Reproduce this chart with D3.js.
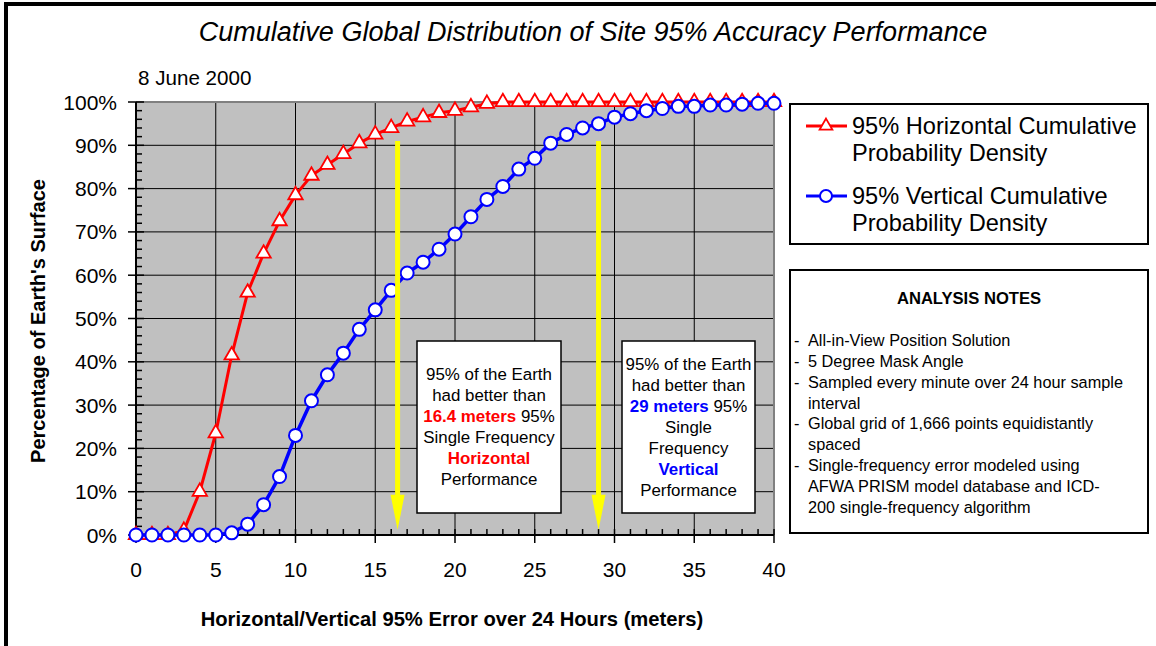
<!DOCTYPE html>
<html>
<head>
<meta charset="utf-8">
<script src="https://cdn.jsdelivr.net/npm/d3@7"></script>
<style>
  html, body { margin: 0; padding: 0; background: #fff; }
  svg { display: block; }
  text { font-family: "Liberation Sans", Arial, sans-serif; fill: #000; }
</style>
</head>
<body>
<svg id="chart" width="1156" height="646"></svg>
<script>
// Error thresholds (meters) on the x axis
const errorMeters = [0,1,2,3,4,5,6,7,8,9,10,11,12,13,14,15,16,17,18,19,20,
                     21,22,23,24,25,26,27,28,29,30,31,32,33,34,35,36,37,38,39,40];

// Percentage of sites at or below each error threshold
const horizontalPct = [0,0,0,1,10,23.5,41.5,56,65,72.5,78.5,83,85.5,88,90.5,92.5,94,95.5,96.5,97.5,98,
                       98.8,99.6,100,100,100,100,100,100,100,100,100,100,100,100,100,100,100,100,100,100];
const verticalPct   = [0,0,0,0,0,0,0.5,2.5,7,13.5,23,31,37,42,47.5,52,56.5,60.5,63,66,69.5,
                       73.5,77.5,80.5,84.5,87,90.5,92.5,94,95,96.5,97.3,98,98.5,99,99,99.3,99.3,99.5,99.7,99.7];

// 95th-percentile marks called out by the arrows
const horizontal95 = 16.4;
const vertical95 = 29;

const xTickValues = [0,5,10,15,20,25,30,35,40];
const yTickValues = [0,10,20,30,40,50,60,70,80,90,100];

const legendLabels = [
  ["95% Horizontal Cumulative", "Probability Density"],
  ["95% Vertical Cumulative", "Probability Density"]
];
const notesItems = [
  ["All-in-View Position Solution"],
  ["5 Degree Mask Angle"],
  ["Sampled every minute over 24 hour sample", "interval"],
  ["Global grid of 1,666 points equidistantly", "spaced"],
  ["Single-frequency error modeled using", "AFWA PRISM model database and ICD-", "200 single-frequency algorithm"]
];

const RED = "#FF0000", BLUE = "#0000FF", YELLOW = "#FFFF00";

const svg = d3.select("#chart");
const x = d3.scaleLinear().domain([0, 40]).range([136, 774]);
const y = d3.scaleLinear().domain([0, 100]).range([535, 102]);

// page frame
svg.append("rect").attr("width", 1156).attr("height", 646).attr("fill", "#fff");
svg.append("line").attr("x1", 4).attr("x2", 1156).attr("y1", 4).attr("y2", 4)
  .attr("stroke", "#000").attr("stroke-width", 4);
svg.append("line").attr("x1", 6).attr("x2", 6).attr("y1", 2).attr("y2", 646)
  .attr("stroke", "#000").attr("stroke-width", 4);

// title and date
svg.append("text").attr("x", 593).attr("y", 41).attr("text-anchor", "middle")
  .style("font-size", "27px").style("font-style", "italic")
  .text("Cumulative Global Distribution of Site 95% Accuracy Performance");
svg.append("text").attr("x", 138).attr("y", 85)
  .style("font-size", "20.6px").text("8 June 2000");

// plot area
const plot = svg.append("g");
plot.append("rect")
  .attr("x", x(0)).attr("y", y(100))
  .attr("width", x(40) - x(0)).attr("height", y(0) - y(100))
  .attr("fill", "#C0C0C0");

// grid
plot.selectAll(".vgrid").data(xTickValues.filter(d => d > 0 && d < 40)).join("line")
  .attr("x1", d => x(d)).attr("x2", d => x(d))
  .attr("y1", y(0)).attr("y2", y(100))
  .attr("stroke", "#000").attr("stroke-width", 1);
plot.selectAll(".hgrid").data(yTickValues.filter(d => d > 0 && d < 100)).join("line")
  .attr("x1", x(0)).attr("x2", x(40))
  .attr("y1", d => y(d)).attr("y2", d => y(d))
  .attr("stroke", "#000").attr("stroke-width", 1);

// top / right frame of plot
plot.append("path")
  .attr("d", `M${x(0)},${y(100)}H${x(40)}V${y(0)}`)
  .attr("fill", "none").attr("stroke", "#808080").attr("stroke-width", 2);

// axes lines
plot.append("line").attr("x1", x(0)).attr("x2", x(0)).attr("y1", y(100)).attr("y2", y(0))
  .attr("stroke", "#000").attr("stroke-width", 2);
plot.append("line").attr("x1", x(0)).attr("x2", x(40)).attr("y1", y(0)).attr("y2", y(0))
  .attr("stroke", "#000").attr("stroke-width", 2);

// y ticks: major crossing, minor inside every 2%
plot.selectAll(".ymaj").data(yTickValues).join("line")
  .attr("x1", x(0) - 8).attr("x2", x(0) + 8)
  .attr("y1", d => y(d)).attr("y2", d => y(d))
  .attr("stroke", "#000").attr("stroke-width", 1.5);
plot.selectAll(".ymin").data(d3.range(2, 100, 2).filter(d => d % 10 !== 0)).join("line")
  .attr("x1", x(0)).attr("x2", x(0) + 6)
  .attr("y1", d => y(d)).attr("y2", d => y(d))
  .attr("stroke", "#000").attr("stroke-width", 1.5);

// x ticks: major crossing, minor inside every meter
plot.selectAll(".xmaj").data(xTickValues).join("line")
  .attr("x1", d => x(d)).attr("x2", d => x(d))
  .attr("y1", y(0) - 6).attr("y2", y(0) + 8)
  .attr("stroke", "#000").attr("stroke-width", 1.5);
plot.selectAll(".xmin").data(errorMeters.filter(d => d % 5 !== 0)).join("line")
  .attr("x1", d => x(d)).attr("x2", d => x(d))
  .attr("y1", y(0) - 6).attr("y2", y(0))
  .attr("stroke", "#000").attr("stroke-width", 1.5);

// tick labels
svg.selectAll(".ylab").data(yTickValues).join("text")
  .attr("x", 117).attr("y", d => y(d)).attr("dy", "0.36em")
  .attr("text-anchor", "end").style("font-size", "21px")
  .text(d => d + "%");
svg.selectAll(".xlab").data(xTickValues).join("text")
  .attr("x", d => x(d)).attr("y", 577)
  .attr("text-anchor", "middle").style("font-size", "21px")
  .text(d => d);

// axis titles
svg.append("text").attr("x", 452).attr("y", 626).attr("text-anchor", "middle")
  .style("font-size", "20.2px").style("font-weight", "bold")
  .text("Horizontal/Vertical 95% Error over 24 Hours (meters)");
svg.append("text").attr("transform", "translate(45,321) rotate(-90)")
  .attr("text-anchor", "middle")
  .style("font-size", "20px").style("font-weight", "bold")
  .text("Percentage of Earth's Surface");

// series
const line = d3.line();
const hPts = errorMeters.map((m, i) => [x(m), y(horizontalPct[i])]);
const vPts = errorMeters.map((m, i) => [x(m), y(verticalPct[i])]);
const tri = d3.symbol(d3.symbolTriangle, 90);

plot.append("path").attr("d", line(hPts)).attr("fill", "none")
  .attr("stroke", RED).attr("stroke-width", 3).attr("stroke-linejoin", "round");
plot.selectAll(".hmark").data(hPts).join("path")
  .attr("d", tri).attr("transform", d => `translate(${d[0]},${d[1]})`)
  .attr("fill", "#fff").attr("stroke", RED).attr("stroke-width", 1.8);

plot.append("path").attr("d", line(vPts)).attr("fill", "none")
  .attr("stroke", BLUE).attr("stroke-width", 3.5).attr("stroke-linejoin", "round");
plot.selectAll(".vmark").data(vPts).join("circle")
  .attr("cx", d => d[0]).attr("cy", d => d[1]).attr("r", 6.5)
  .attr("fill", "#fff").attr("stroke", BLUE).attr("stroke-width", 2);

// yellow arrows at the 95% values
[horizontal95, vertical95].forEach(v => {
  const ax = x(v), top = y(91), tip = y(1.2), headLen = 35, headHalf = 7;
  plot.append("line").attr("x1", ax).attr("x2", ax).attr("y1", top).attr("y2", tip - headLen + 2)
    .attr("stroke", YELLOW).attr("stroke-width", 5);
  plot.append("path")
    .attr("d", `M${ax - headHalf},${tip - headLen}L${ax + headHalf},${tip - headLen}L${ax},${tip}Z`)
    .attr("fill", YELLOW);
});

// annotation boxes
function noteBox(x0, y0, w, h, lines, cy0, step) {
  const g = svg.append("g");
  g.append("rect").attr("x", x0).attr("y", y0).attr("width", w).attr("height", h)
    .attr("fill", "#fff").attr("stroke", "#000").attr("stroke-width", 1.5);
  lines.forEach((parts, i) => {
    const t = g.append("text").attr("x", x0 + w / 2).attr("y", cy0 + i * step)
      .attr("dy", "0.36em").attr("text-anchor", "middle").style("font-size", "16.9px");
    parts.forEach(p => {
      t.append("tspan").text(p.t)
        .style("fill", p.c || "#000").style("font-weight", p.b ? "bold" : "normal");
    });
  });
}
noteBox(417, 341, 144, 172, [
  [{t: "95% of the Earth"}],
  [{t: "had better than"}],
  [{t: horizontal95 + " meters", c: RED, b: true}, {t: " 95%"}],
  [{t: "Single Frequency"}],
  [{t: "Horizontal", c: RED, b: true}],
  [{t: "Performance"}]
], 373.5, 21);
noteBox(622, 341, 133, 172, [
  [{t: "95% of the Earth"}],
  [{t: "had better than"}],
  [{t: vertical95 + " meters", c: BLUE, b: true}, {t: " 95%"}],
  [{t: "Single"}],
  [{t: "Frequency"}],
  [{t: "Vertical", c: BLUE, b: true}],
  [{t: "Performance"}]
], 363.5, 21.1);

// legend
const leg = svg.append("g");
leg.append("rect").attr("x", 790).attr("y", 104).attr("width", 358).attr("height", 140)
  .attr("fill", "#fff").attr("stroke", "#000").attr("stroke-width", 2);
const legY = [126, 196];
[[RED, "tri"], [BLUE, "circ"]].forEach(([col, kind], i) => {
  const ly = legY[i];
  leg.append("line").attr("x1", 806).attr("x2", 847).attr("y1", ly).attr("y2", ly)
    .attr("stroke", col).attr("stroke-width", 3);
  if (kind === "tri") {
    leg.append("path").attr("d", d3.symbol(d3.symbolTriangle, 70))
      .attr("transform", `translate(826,${ly})`)
      .attr("fill", "#fff").attr("stroke", col).attr("stroke-width", 1.8);
  } else {
    leg.append("circle").attr("cx", 826).attr("cy", ly).attr("r", 6)
      .attr("fill", "#fff").attr("stroke", col).attr("stroke-width", 2);
  }
  legendLabels[i].forEach((s, j) => {
    leg.append("text").attr("x", 852).attr("y", ly + j * 27).attr("dy", "0.36em")
      .style("font-size", "23.6px").text(s);
  });
});

// analysis notes
const notes = svg.append("g");
notes.append("rect").attr("x", 790).attr("y", 270).attr("width", 358).attr("height", 263)
  .attr("fill", "#fff").attr("stroke", "#000").attr("stroke-width", 2);
notes.append("text").attr("x", 969).attr("y", 298).attr("dy", "0.36em")
  .attr("text-anchor", "middle").style("font-size", "16.6px").style("font-weight", "bold")
  .text("ANALYSIS NOTES");
let row = 0;
notesItems.forEach(item => {
  item.forEach((s, j) => {
    const ty = 340 + row * 20.9;
    if (j === 0) {
      notes.append("text").attr("x", 794).attr("y", ty).attr("dy", "0.36em")
        .style("font-size", "16.3px").text("-");
    }
    notes.append("text").attr("x", 808).attr("y", ty).attr("dy", "0.36em")
      .style("font-size", "16.3px").text(s);
    row++;
  });
});
</script>
</body>
</html>
